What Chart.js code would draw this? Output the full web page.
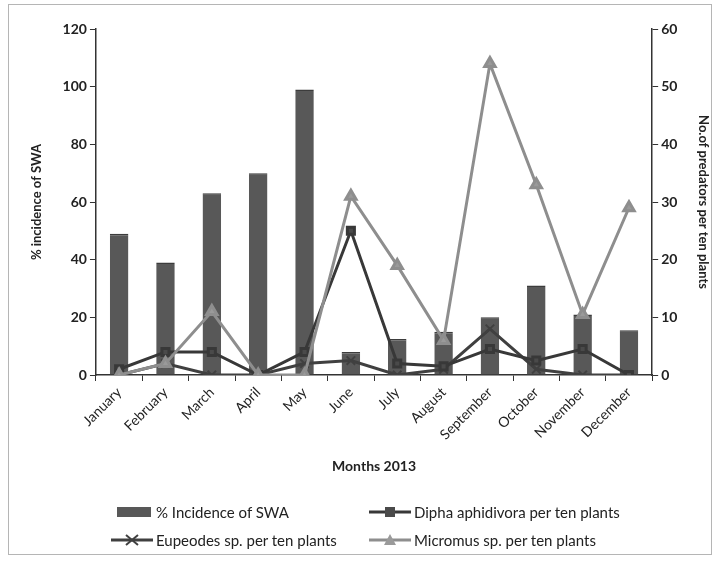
<!DOCTYPE html>
<html>
<head>
    <title>SWA incidence and predators 2013</title>
    <script src="https://cdn.jsdelivr.net/npm/chart.js"></script>
    <style>
        body { margin: 0; background: #fff; font-family: Lato, "Open Sans", sans-serif; }
        .frame {
            position: relative;
            width: 718px;
            height: 563px;
        }
        .border {
            position: absolute;
            left: 8px; top: 4px; right: 6px; bottom: 8px;
            border: 1px solid #b5b5b5;
            pointer-events: none;
        }
        canvas { position: absolute; left: 0; top: 0; }
        .lg {
            position: absolute;
            font-size: 15px;
            color: #222;
            display: flex;
            align-items: center;
            white-space: nowrap;
        }
        .lg svg { margin-right: 2px; }
    </style>
</head>
<body>
    <div class="frame">
        <canvas id="swaChart" width="718" height="563"></canvas>
        <div class="border"></div>
        <div class="lg" style="left:116px; top:503px;">
            <svg width="38" height="16"><rect x="1" y="3" width="34" height="10" fill="#585858"/></svg>% Incidence of SWA
        </div>
        <div class="lg" style="left:368px; top:503px;">
            <svg width="44" height="16"><line x1="1" y1="8" x2="43" y2="8" stroke="#383838" stroke-width="3"/><rect x="17" y="3" width="10" height="10" fill="#4a4a4a"/></svg>Dipha aphidivora per ten plants
        </div>
        <div class="lg" style="left:110px; top:531px;">
            <svg width="44" height="16"><line x1="1" y1="8" x2="43" y2="8" stroke="#404040" stroke-width="3"/><path d="M16 3 L28 13 M28 3 L16 13" stroke="#404040" stroke-width="2"/></svg>Eupeodes sp. per ten plants
        </div>
        <div class="lg" style="left:368px; top:531px;">
            <svg width="44" height="16"><line x1="1" y1="8" x2="43" y2="8" stroke="#8e8e8e" stroke-width="3"/><path d="M22 2 L28 13 L16 13 Z" fill="#9a9a9a"/></svg>Micromus sp. per ten plants
        </div>
    </div>

    <script>
        // data
        const months = ['January', 'February', 'March', 'April', 'May', 'June',
                        'July', 'August', 'September', 'October', 'November', 'December'];
        const swaIncidence = [49, 39, 63, 70, 99, 8, 12.5, 15, 20, 31, 21, 15.5];
        const diphaCounts = [1, 4, 4, 0, 4, 25, 2, 1.5, 4.5, 2.5, 4.5, 0];
        const eupeodesCounts = [0, 2, 0, 0, 2, 2.5, 0, 1, 8, 1, 0, 0];
        const micromusCounts = [0, 2, 11, 0, 0, 31, 19, 6, 54, 33, 10.5, 29];
        const leftTicks = [0, 20, 40, 60, 80, 100, 120];
        const rightTicks = [0, 10, 20, 30, 40, 50, 60];

        const axisColor = '#333';
        const fontFamily = 'Lato, "Open Sans", sans-serif';

        const ctx = document.getElementById('swaChart').getContext('2d');
        new Chart(ctx, {
            data: {
                labels: months,
                datasets: [{
                    type: 'bar',
                    label: '% Incidence of SWA',
                    data: swaIncidence,
                    yAxisID: 'y',
                    backgroundColor: '#585858',
                    borderColor: '#3c3c3c',
                    borderWidth: { top: 1.5, left: 0, right: 0, bottom: 0 },
                    barPercentage: 0.4,
                    categoryPercentage: 1,
                    order: 5
                }, {
                    type: 'line',
                    label: 'Dipha aphidivora per ten plants',
                    data: diphaCounts,
                    yAxisID: 'y1',
                    borderColor: '#383838',
                    backgroundColor: '#4a4a4a',
                    borderWidth: 3,
                    pointStyle: 'rect',
                    pointRadius: 5,
                    tension: 0,
                    order: 2
                }, {
                    type: 'line',
                    label: 'Eupeodes sp. per ten plants',
                    data: eupeodesCounts,
                    yAxisID: 'y1',
                    borderColor: '#404040',
                    backgroundColor: '#404040',
                    borderWidth: 3,
                    pointStyle: 'crossRot',
                    pointRadius: 6,
                    pointBorderWidth: 2,
                    tension: 0,
                    order: 3
                }, {
                    type: 'line',
                    label: 'Micromus sp. per ten plants',
                    data: micromusCounts,
                    yAxisID: 'y1',
                    borderColor: '#8e8e8e',
                    backgroundColor: '#9a9a9a',
                    borderWidth: 3,
                    pointStyle: 'triangle',
                    pointRadius: 6,
                    tension: 0,
                    order: 1
                }]
            },
            options: {
                responsive: false,
                animation: false,
                layout: { padding: { left: 27, right: 5, top: 29, bottom: 84 } },
                plugins: {
                    legend: { display: false },
                    tooltip: { enabled: false }
                },
                scales: {
                    x: {
                        offset: true,
                        grid: { offset: true, drawOnChartArea: false, tickLength: 6, color: axisColor },
                        border: { color: axisColor, width: 1.5 },
                        ticks: {
                            minRotation: 45, maxRotation: 45,
                            color: '#222',
                            font: { family: fontFamily, size: 14 }
                        },
                        title: {
                            display: true, text: 'Months 2013', color: '#222',
                            font: { family: fontFamily, size: 14, weight: 'bold' },
                            padding: { top: 12 }
                        }
                    },
                    y: {
                        position: 'left',
                        min: 0, max: 120,
                        afterBuildTicks: axis => { axis.ticks = leftTicks.map(v => ({ value: v })); },
                        grid: { drawOnChartArea: false, tickLength: 6, color: axisColor },
                        border: { color: axisColor, width: 1.5 },
                        ticks: { color: '#222', font: { family: fontFamily, size: 14, weight: 'bold' } },
                        title: {
                            display: true, text: '% incidence of SWA', color: '#222',
                            font: { family: fontFamily, size: 13, weight: 'bold' },
                            padding: { top: 2, bottom: 15 }
                        }
                    },
                    y1: {
                        position: 'right',
                        min: 0, max: 60,
                        afterBuildTicks: axis => { axis.ticks = rightTicks.map(v => ({ value: v })); },
                        grid: { drawOnChartArea: false, tickLength: 6, color: axisColor },
                        border: { color: axisColor, width: 1.5 },
                        ticks: { color: '#222', font: { family: fontFamily, size: 14, weight: 'bold' } },
                        title: {
                            display: true, text: 'No.of predators per ten plants', color: '#222',
                            font: { family: fontFamily, size: 13, weight: 'bold' },
                            padding: { top: 2, bottom: 15 }
                        }
                    }
                }
            }
        });
    </script>
</body>
</html>
